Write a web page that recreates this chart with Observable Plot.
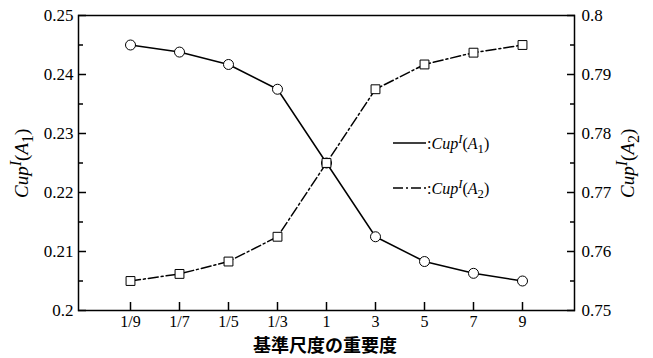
<!DOCTYPE html>
<html><head><meta charset="utf-8">
<script src="https://cdn.jsdelivr.net/npm/d3@7"></script>
<script src="https://cdn.jsdelivr.net/npm/@observablehq/plot@0.6"></script>
<style>body{margin:0;background:#fff}</style>
</head><body><div id="chart"></div>
<script>
const categories = ["1/9","1/7","1/5","1/3","1","3","5","7","9"];
const cupA1 = [0.245, 0.2438, 0.2417, 0.2375, 0.225, 0.2125, 0.2083, 0.2063, 0.205];
const cupA2 = [0.755, 0.7562, 0.7583, 0.7625, 0.775, 0.7875, 0.7917, 0.7937, 0.795];
const leftTicks = [0.2, 0.21, 0.22, 0.23, 0.24, 0.25];
const leftTickLabels = ["0.2","0.21","0.22","0.23","0.24","0.25"];
const rightTickLabels = ["0.75","0.76","0.77","0.78","0.79","0.8"];
const minorTicks = [0.205, 0.215, 0.225, 0.235, 0.245];
const rightOffset = 0.55; // right axis value = left axis value + 0.55
const xTitle = "基準尺度の重要度";

const rows = categories.map((c, i) => ({c, a1: cupA1[i], a2: cupA2[i]}));
const a2y = d => d.a2 - rightOffset;

const svg = Plot.plot({
  width: 653,
  height: 358,
  marginTop: 15,
  marginBottom: 48,
  marginLeft: 78,
  marginRight: 79,
  style: {fontFamily: "'Liberation Serif', serif", fontSize: "17px", color: "black", background: "white"},
  x: {type: "point", domain: categories, padding: 1, axis: null},
  y: {domain: [0.2, 0.25], axis: null},
  marks: [
    Plot.axisY(leftTicks, {anchor: "left", tickSize: -8, tickPadding: 13, strokeWidth: 1.5,
      tickFormat: d => leftTickLabels[leftTicks.indexOf(d)], label: null}),
    Plot.axisY(minorTicks, {anchor: "left", tickSize: -5, strokeWidth: 1.5, tickFormat: () => "", label: null}),
    Plot.axisY(leftTicks, {anchor: "right", tickSize: -8, tickPadding: 15, strokeWidth: 1.5,
      tickFormat: d => rightTickLabels[leftTicks.indexOf(d)], label: null}),
    Plot.axisY(minorTicks, {anchor: "right", tickSize: -5, strokeWidth: 1.5, tickFormat: () => "", label: null}),
    Plot.axisX(categories, {anchor: "bottom", tickSize: -8, tickPadding: 13.6, strokeWidth: 1.5, fontSize: 16, label: null}),
    Plot.line(rows, {x: "c", y: "a1", stroke: "black", strokeWidth: 1.5}),
    Plot.line(rows, {x: "c", y: a2y, stroke: "black", strokeWidth: 1.5, strokeDasharray: "10,3,2,3"}),
    Plot.dot(rows, {x: "c", y: "a1", r: 5, fill: "white", stroke: "black", strokeWidth: 1}),
    Plot.dot(rows, {x: "c", y: a2y, symbol: "square", r: 5, fill: "white", stroke: "black", strokeWidth: 1}),
    Plot.frame({stroke: "black", strokeWidth: 1.5})
  ]
});

const s = d3.select(svg);

function cupText(g, sub, size, colon, scale) {
  const t = g.append("text")
    .attr("text-anchor", "start")
    .attr("font-family", "'Liberation Serif', serif")
    .attr("font-size", size)
    .attr("fill", "black");
  if (colon) t.append("tspan").text(":");
  t.append("tspan").attr("font-style", "italic").text("Cup");
  t.append("tspan").attr("font-style", "italic").attr("font-size", size * scale).attr("dy", -size * 0.35).text("I");
  t.append("tspan").attr("dy", size * 0.35).text("(");
  t.append("tspan").attr("font-style", "italic").text("A");
  t.append("tspan").attr("font-size", size * scale).attr("dy", size * 0.25).text(sub);
  t.append("tspan").attr("dy", -size * 0.25).text(")");
  return t;
}

// y axis titles
cupText(s.append("g").attr("transform", "translate(28,198) rotate(-90)"), "1", 19, false, 0.85);
cupText(s.append("g").attr("transform", "translate(634,198) rotate(-90)"), "2", 19, false, 0.85);

// legend
const lg = s.append("g");
lg.append("line").attr("x1", 393).attr("x2", 426).attr("y1", 143).attr("y2", 143)
  .attr("stroke", "black").attr("stroke-width", 1.5);
cupText(lg.append("g").attr("transform", "translate(427,149)"), "1", 16, true, 0.8);
lg.append("line").attr("x1", 393).attr("x2", 426).attr("y1", 188).attr("y2", 188)
  .attr("stroke", "black").attr("stroke-width", 1.5).attr("stroke-dasharray", "10,3,2,3");
cupText(lg.append("g").attr("transform", "translate(427,194)"), "2", 16, true, 0.8);

// x axis title
s.append("text").attr("x", 325).attr("y", 352).attr("text-anchor", "middle")
  .attr("font-family", "'Noto Sans CJK JP', sans-serif").attr("font-size", 18).attr("font-weight", "bold")
  .attr("fill", "black").text(xTitle);

document.getElementById("chart").appendChild(svg);
</script>
</body></html>
